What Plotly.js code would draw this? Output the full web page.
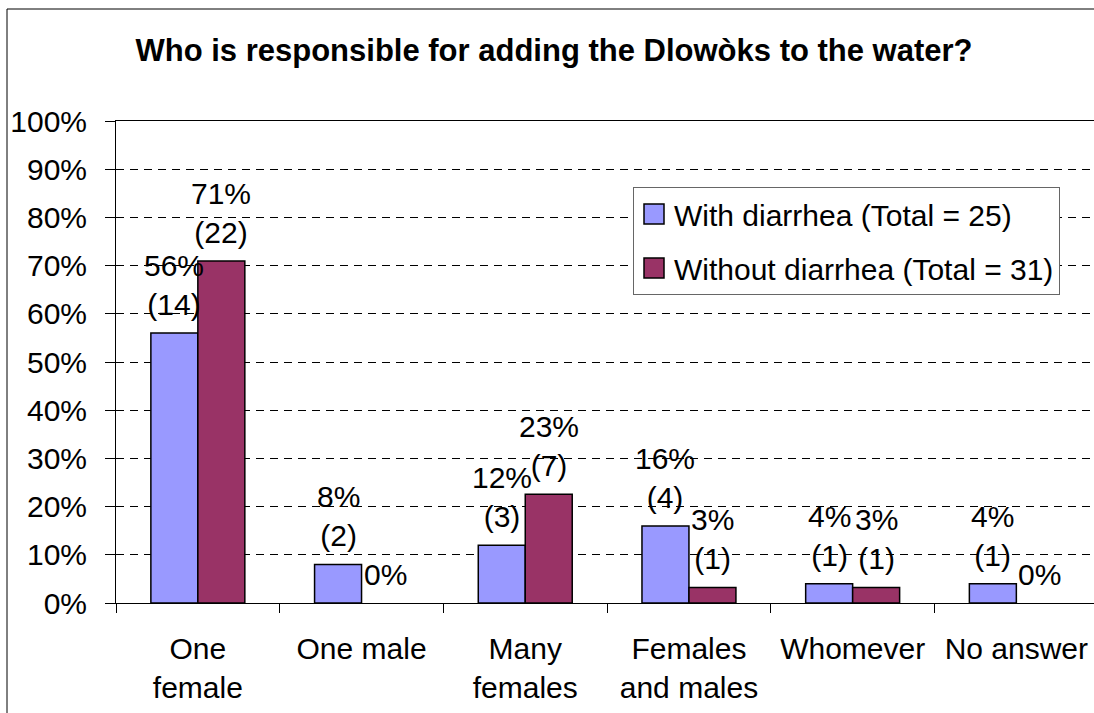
<!DOCTYPE html>
<html>
<head>
<meta charset="utf-8">
<script src="https://cdn.plot.ly/plotly-3.0.1.min.js"></script>
<style>
html,body{margin:0;padding:0;background:#fff;}
#chart{width:1094px;height:713px;}
</style>
</head>
<body>
<div id="chart"></div>
<script>
// ---- data ----
const categories = ['One<br>female', 'One male', 'Many<br>females', 'Females<br>and males', 'Whomever', 'No answer'];
const seriesNames = ['With diarrhea (Total = 25)', 'Without diarrhea (Total = 31)'];
const withPct = [56, 8, 12, 16, 4, 4];
const withCount = [14, 2, 3, 4, 1, 1];
const withoutPct = [70.97, 0, 22.58, 3.23, 3.23, 0];
const withoutCount = [22, 0, 7, 1, 1, 0];
const yTickVals = [0, 10, 20, 30, 40, 50, 60, 70, 80, 90, 100];

// ---- style ----
const FONT = 'Liberation Sans, Arial, sans-serif';
const BLUE = '#9999FF';
const PURPLE = '#993366';
const BARGAP = 0.426;
const barW = (1 - BARGAP) / 2;

const L = 116, R = 0, T = 121, B = 110, W = 1094, H = 713;
const plotW = W - L - R, plotH = H - T - B;
const catPx = 163.7;
const xMax = -0.5 + plotW / catPx;

function label(p, c) {
  return Math.round(p) + '%' + (c > 0 ? '<br>(' + c + ')' : '');
}
function outline(vals) { return vals.map(v => v > 0 ? 1.5 : 0); }

const traces = [
  {type: 'bar', name: seriesNames[0], x: categories, y: withPct,
   marker: {color: BLUE, line: {color: '#000', width: outline(withPct)}},
   legendgroup: 'a', hoverinfo: 'none'},
  {type: 'bar', name: seriesNames[1], x: categories, y: withoutPct,
   marker: {color: PURPLE, line: {color: '#000', width: outline(withoutPct)}},
   legendgroup: 'b', hoverinfo: 'none'}
];

const annotations = [];
categories.forEach((c, i) => {
  annotations.push({x: i - barW / 2, y: withPct[i], xref: 'x', yref: 'y',
    text: label(withPct[i], withCount[i]), showarrow: false,
    xanchor: 'center', yanchor: 'bottom', yshift: 10,
    font: {family: FONT, size: 30, color: '#000'}});
  annotations.push({x: i + barW / 2, y: withoutPct[i], xref: 'x', yref: 'y',
    text: label(withoutPct[i], withoutCount[i]), showarrow: false,
    xanchor: 'center', yanchor: 'bottom', yshift: 10,
    font: {family: FONT, size: 30, color: '#000'}});
});

const layout = {
  width: W, height: H,
  margin: {l: L, r: R, t: T, b: B, pad: 0},
  paper_bgcolor: '#fff', plot_bgcolor: '#fff',
  font: {family: FONT, size: 30, color: '#000'},
  title: {text: '<b>Who is responsible for adding the Dlowòks to the water?</b>',
    font: {family: FONT, size: 31, color: '#000'},
    x: 554 / W, xanchor: 'center', xref: 'container', y: 1 - 50 / H, yanchor: 'middle', yref: 'container'},
  barmode: 'group', bargap: BARGAP, bargroupgap: 0,
  showlegend: true,
  legend: {x: (633 - L) / plotW, y: (H - B - 187) / plotH, xanchor: 'left', yanchor: 'top',
    bgcolor: '#fff', bordercolor: '#666', borderwidth: 1,
    font: {family: FONT, size: 30, color: '#000'},
    traceorder: 'grouped', tracegroupgap: 12},
  xaxis: {type: 'category', range: [-0.5, xMax], tickson: 'boundaries',
    ticks: 'outside', ticklen: 9, tickcolor: '#000', tickwidth: 1,
    showline: true, linecolor: '#000', linewidth: 1, mirror: true,
    showgrid: false, zeroline: false, ticklabelstandoff: 19,
    tickfont: {family: FONT, size: 30, color: '#000'}, fixedrange: true},
  yaxis: {range: [0, 100], tickmode: 'array', tickvals: yTickVals,
    ticktext: yTickVals.map(v => v + '%'),
    ticks: 'outside', ticklen: 10, tickcolor: '#000', tickwidth: 1,
    showline: true, linecolor: '#000', linewidth: 1,
    showgrid: true, gridcolor: '#000', gridwidth: 1, griddash: '8px,6px',
    zeroline: false, ticklabelstandoff: 12,
    tickfont: {family: FONT, size: 30, color: '#000'}, fixedrange: true},
  annotations: annotations,
  shapes: [{type: 'rect', xref: 'paper', yref: 'paper',
    x0: (7 - L) / plotW, x1: 1.3, y0: -0.6, y1: (H - B - 9) / plotH,
    line: {color: '#000', width: 1}, fillcolor: 'rgba(0,0,0,0)', layer: 'below'}]
};

Plotly.newPlot('chart', traces, layout, {displayModeBar: false, staticPlot: true}).then(gd => {
  gd.querySelectorAll('.legend .legendpoints path').forEach(p => {
    p.setAttribute('d', 'M10,10H-10V-10H10Z');
  });
});
</script>
</body>
</html>
